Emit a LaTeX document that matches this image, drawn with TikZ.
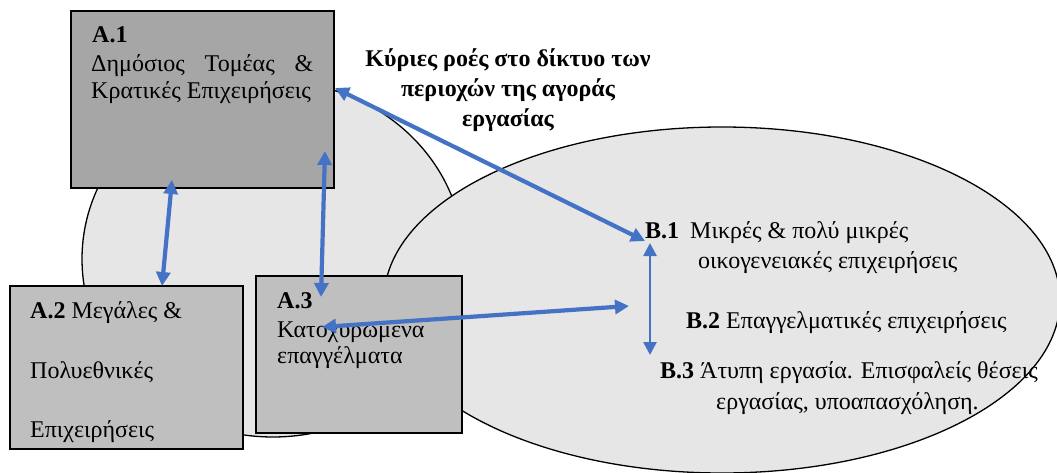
\documentclass[tikz,border=0pt]{standalone}
\usepackage{fontspec}
\setmainfont{Liberation Serif}
\usetikzlibrary{arrows.meta,shapes.geometric}
\definecolor{dk}{HTML}{A6A6A6}
\definecolor{lt}{HTML}{BFBFBF}
\definecolor{el}{HTML}{E6E6E6}
\definecolor{bl}{HTML}{4472C4}
\tikzset{
  ell/.style={ellipse, draw=black, line width=1.3pt, fill=el, inner sep=0},
  boxdark/.style={rectangle, draw=black, line width=1.2pt, fill=dk, inner sep=0},
  boxlight/.style={rectangle, draw=black, line width=1.2pt, fill=lt, inner sep=0},
  txt/.style={anchor=base west, inner sep=0, font=\fontsize{24}{28}\selectfont},
  ttl/.style={anchor=base, inner sep=0, font=\bfseries\fontsize{24}{30}\selectfont},
  flow/.style={draw=bl, line width=4.2pt, {Triangle[length=14pt,width=14pt]}-{Triangle[length=14pt,width=14pt]}},
  flowthin/.style={draw=bl, line width=2.6pt, {Triangle[length=13pt,width=13pt]}-{Triangle[length=13pt,width=13pt]}},
}
\begin{document}
\begin{tikzpicture}[x=1pt,y=-1pt]
\useasboundingbox (0,0) rectangle (1057,473);
% ellipses
\node[ell, minimum width=382pt, minimum height=356pt] (L) at (273,259) {};
\node[ell, minimum width=676pt, minimum height=346pt] (R) at (722,300) {};
% boxes
\node[boxdark, minimum width=263pt, minimum height=177pt] (A1) at (202.5,99.5) {};
\node[boxlight, minimum width=233pt, minimum height=163pt] (A2) at (126.5,367.5) {};
\node[boxlight, minimum width=206pt, minimum height=157pt] (A3) at (359,354.5) {};
% texts
\node[txt] (a1t) at (92,43) {\textbf{A.1}};
\node[txt] (a1l1) at (91,72) {\makebox[222pt][s]{Δημόσιος Τομέας \&}};
\node[txt] (a1l2) at (91,99) {Κρατικές Επιχειρήσεις};
\node[ttl] (t1) at (508,67) {Κύριες ροές στο δίκτυο των};
\node[ttl] (t2) at (508,97) {περιοχών της αγοράς};
\node[ttl] (t3) at (508,127) {εργασίας};
\node[txt] (a2l1) at (30,318) {\textbf{A.2} Μεγάλες \&};
\node[txt] (a2l2) at (30,378) {Πολυεθνικές};
\node[txt] (a2l3) at (30,437) {Επιχειρήσεις};
\node[txt] (a3t) at (277,308) {\textbf{A.3}};
\node[txt] (a3l1) at (277,337) {Κατοχυρωμένα};
\node[txt] (a3l2) at (277,363) {επαγγέλματα};
\node[txt] (b1t) at (645,238) {\textbf{B.1}};
\node[txt] (b1l1) at (690,238) {Μικρές \& πολύ μικρές};
\node[txt] (b1l2) at (698,268) {οικογενειακές επιχειρήσεις};
\node[txt] (b2) at (686,328) {\textbf{B.2} Επαγγελματικές επιχειρήσεις};
\node[txt] (b3l1) at (660,378) {\textbf{B.3} Άτυπη εργασία. Επισφαλείς θέσεις};
\node[txt] (b3l2) at (716,409) {εργασίας, υποαπασχόληση.};
% arrow end points
\coordinate (pA1r) at (335,88);
\coordinate (pB1) at (645,241);
\coordinate (pA1b) at (172,180);
\coordinate (pA2t) at (162,286);
\coordinate (pA1c) at (325,151);
\coordinate (pA3t) at (321,297);
\coordinate (pA3m) at (322,327);
\coordinate (pB2) at (629,306);
\coordinate (pB1b) at (650,243);
\coordinate (pB3) at (650,355);
% arrows
\draw[flow] (pA1r) -- (pB1);
\draw[flow] (pA1b) -- (pA2t);
\draw[flow] (pA1c) -- (pA3t);
\draw[flow] (pA3m) -- (pB2);
\draw[flowthin] (pB1b) -- (pB3);
\end{tikzpicture}
\end{document}
